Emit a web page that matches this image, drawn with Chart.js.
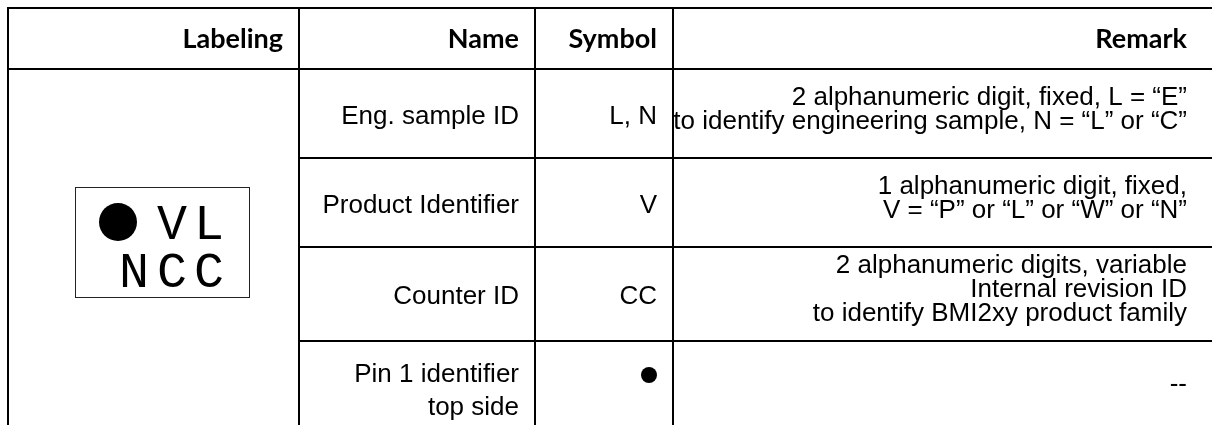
<!DOCTYPE html>
<html lang="en">
<head>
  <meta charset="UTF-8">
  <script src="https://cdn.jsdelivr.net/npm/chart.js"></script>
  <title>marking table</title>
  <style>
    html, body { margin: 0; padding: 0; background: #fff; }
    .container { width: 1212px; height: 425px; }
  </style>
</head>
<body>
<div class="container"><canvas id="table"></canvas></div>
<script>
  // table content
  const headers = ['Labeling', 'Name', 'Symbol', 'Remark'];
  const names = [['Eng. sample ID'], ['Product Identifier'], ['Counter ID'], ['Pin 1 identifier', 'top side']];
  const symbols = ['L, N', 'V', 'CC', '●'];
  const remarks = [
    ['2 alphanumeric digit, fixed, L = “E”', 'to identify engineering sample, N = “L” or “C”'],
    ['1 alphanumeric digit, fixed,', 'V = “P” or “L” or “W” or “N”'],
    ['2 alphanumeric digits, variable', 'Internal revision ID', 'to identify BMI2xy product family'],
    ['--']
  ];
  const marking = [['●', 'V', 'L'], ['N', 'C', 'C']];

  // layout (canvas units)
  const colEdges = [8, 299, 535, 673, 1203];
  const rowEdges = [8, 69, 158, 247, 341, 436];
  const pad = 16;
  const bodyFont = '26px "Liberation Sans", Arial, sans-serif';
  const headFont = 'bold 27px Lato, "Open Sans", sans-serif';

  const tablePlugin = {
    id: 'table',
    afterDraw(chart) {
      const ctx = chart.ctx;
      const px = v => chart.scales.x.getPixelForValue(v);
      const py = v => chart.scales.y.getPixelForValue(v);
      ctx.save();
      ctx.strokeStyle = '#000';
      ctx.fillStyle = '#000';
      ctx.lineWidth = 2;
      ctx.beginPath();
      // top border and header line run across the whole table
      [rowEdges[0], rowEdges[1]].forEach(r => { ctx.moveTo(px(colEdges[0] - 1), py(r)); ctx.lineTo(px(1212), py(r)); });
      // row lines skip the merged labeling cell
      rowEdges.slice(2, -1).forEach(r => { ctx.moveTo(px(colEdges[1]), py(r)); ctx.lineTo(px(1212), py(r)); });
      colEdges.slice(0, -1).forEach(c => { ctx.moveTo(px(c), py(rowEdges[0] - 1)); ctx.lineTo(px(c), py(425)); });
      ctx.stroke();

      // header
      ctx.font = headFont;
      ctx.textAlign = 'right';
      ctx.textBaseline = 'middle';
      const hMid = (rowEdges[0] + rowEdges[1]) / 2;
      headers.forEach((h, i) => ctx.fillText(h, px(colEdges[i + 1] - pad), py(hMid + 1)));

      // body rows
      ctx.font = bodyFont;
      names.forEach((lines, r) => {
        const mid = (rowEdges[r + 1] + rowEdges[r + 2]) / 2;
        const lineY = i => mid + 3 + (i - (lines.length - 1) / 2) * 33;
        lines.forEach((t, i) => ctx.fillText(t, px(colEdges[2] - pad), py(lineY(i))));
        const s = symbols[r];
        if (s === '●') {
          ctx.beginPath();
          ctx.arc(px(colEdges[3] - pad - 8), py(lineY(0)), 8, 0, Math.PI * 2);
          ctx.fill();
        } else {
          ctx.fillText(s, px(colEdges[3] - pad), py(lineY(0)));
        }
        const rl = remarks[r];
        rl.forEach((t, i) => ctx.fillText(t, px(colEdges[4] - pad), py(mid - 4 + (i - (rl.length - 1) / 2) * 24)));
      });

      // marking drawing in the labeling cell
      ctx.lineWidth = 1;
      ctx.strokeStyle = '#222';
      ctx.strokeRect(px(75) + 0.5, py(187) + 0.5, 174, 110);
      ctx.font = '50px "Liberation Mono", "DejaVu Sans Mono", monospace';
      ctx.textAlign = 'center';
      ctx.textBaseline = 'alphabetic';
      const cx = [134, 172, 209];
      marking.forEach((row, j) => {
        row.forEach((ch, k) => {
          if (ch === '●') {
            ctx.beginPath();
            ctx.arc(px(118), py(222), 19, 0, Math.PI * 2);
            ctx.fill();
          } else {
            ctx.fillText(ch, px(cx[k]), py(239 + j * 48));
          }
        });
      });
      ctx.restore();
    }
  };

  new Chart(document.getElementById('table'), {
    type: 'scatter',
    data: { datasets: [] },
    options: {
      responsive: true,
      maintainAspectRatio: false,
      animation: false,
      layout: { padding: 0 },
      plugins: { legend: { display: false }, tooltip: { enabled: false } },
      scales: {
        x: { type: 'linear', min: 0, max: 1212, display: false },
        y: { type: 'linear', min: 0, max: 425, reverse: true, display: false }
      }
    },
    plugins: [tablePlugin]
  });
</script>
</body>
</html>
